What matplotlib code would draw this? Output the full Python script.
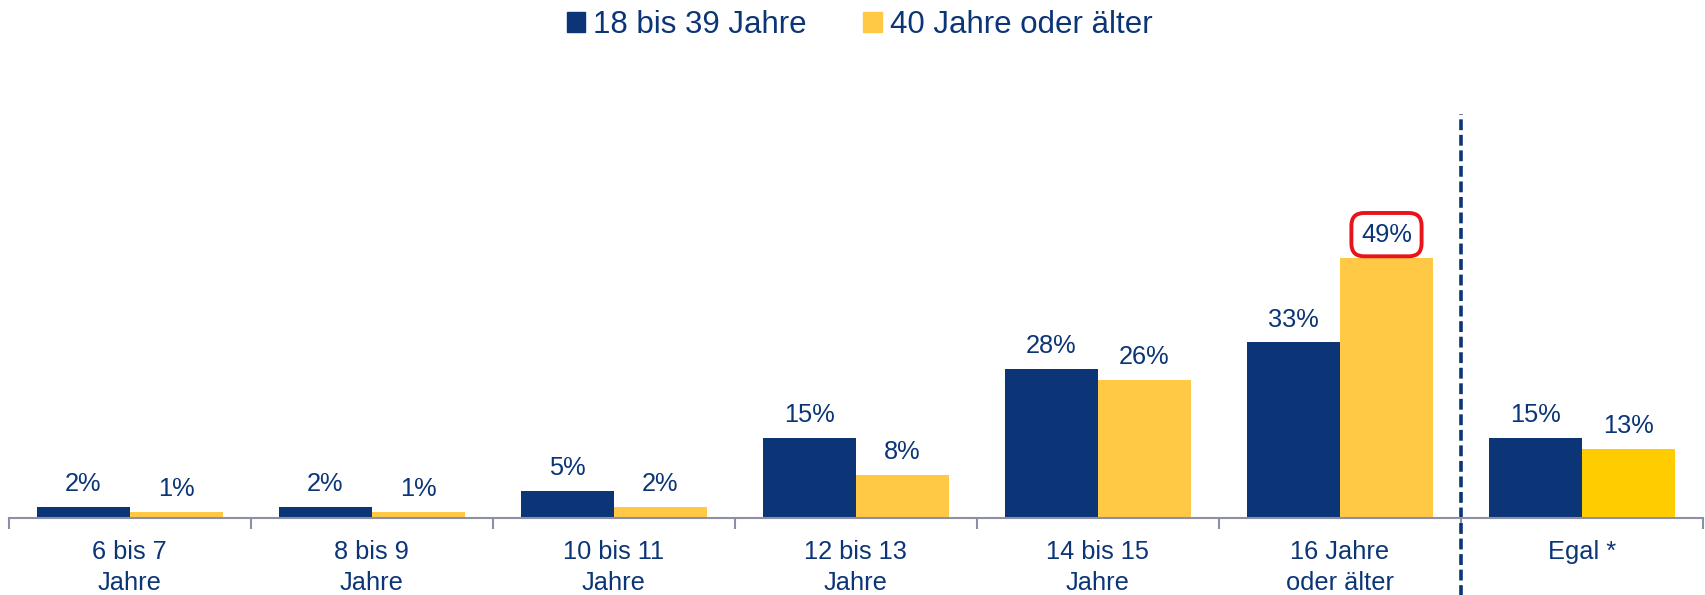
import numpy as np
import matplotlib
matplotlib.use("Agg")
import matplotlib.pyplot as plt
from matplotlib.patches import Patch

plt.rcParams["font.family"] = ["Liberation Sans", "DejaVu Sans"]

# Data
categories = ["6 bis 7\nJahre", "8 bis 9\nJahre", "10 bis 11\nJahre", "12 bis 13\nJahre",
              "14 bis 15\nJahre", "16 Jahre\noder älter", "Egal *"]
series_names = ["18 bis 39 Jahre", "40 Jahre oder älter"]
young = [2, 2, 5, 15, 28, 33, 15]
old = [1, 1, 2, 8, 26, 49, 13]

navy = "#0b3577"
yellow = "#ffc845"
yellow_egal = "#ffcc00"
text_col = "#0b3577"

fig = plt.figure(figsize=(17.05, 5.95), dpi=100)
ax = fig.add_axes([0.0051, 0.130, 0.9937, 0.678])

x = np.arange(len(categories))
w = 0.385
old_colors = [yellow] * (len(categories) - 1) + [yellow_egal]
b1 = ax.bar(x - w / 2, young, width=w, color=navy)
b2 = ax.bar(x + w / 2, old, width=w, color=old_colors)

# value labels
for bars, vals in ((b1, young), (b2, old)):
	for rect, v in zip(bars, vals):
		kw = {}
		if vals is old and v == max(old):
			kw["bbox"] = dict(boxstyle="round,pad=0.38,rounding_size=0.5", fc="white", ec="#e8141b", lw=2.8)
		ax.annotate(f"{v}%", (rect.get_x() + rect.get_width() / 2, rect.get_height()),
			xytext=(0, 16.5), textcoords="offset points", ha="center", va="center",
			fontsize=18.3, color=text_col, **kw)

ax.set_xlim(-0.5, len(categories) - 0.5)
ax.set_ylim(0, 76)
for s in ("top", "right", "left"):
	ax.spines[s].set_visible(False)
ax.spines["bottom"].set_color("#8c8fa6")
ax.spines["bottom"].set_linewidth(1.5)
ax.set_yticks([])

# ticks at category boundaries, labels centered
ax.set_xticks(np.arange(-0.5, len(categories)), minor=False)
ax.set_xticklabels([])
ax.tick_params(axis="x", which="major", length=8, width=1.5, color="#8c8fa6", direction="out")
ax.set_xticks(x, minor=True)
ax.set_xticklabels(categories, minor=True, fontsize=18.3, color=text_col, linespacing=1.38)
ax.tick_params(axis="x", which="minor", length=0, pad=16)

# dashed separator before "Egal"
ax.axvline(len(categories) - 1.5, ymin=-0.2, ymax=1.0, clip_on=False, color=navy,
	lw=2.6, dashes=(3.0, 1.3))

handles = [Patch(color=navy), Patch(color=yellow)]
leg = fig.legend(handles, series_names, loc="center", bbox_to_anchor=(0.504, 0.958), ncol=2,
	frameon=False, fontsize=22.5, handlelength=0.6, handleheight=0.6, handletextpad=0.25,
	columnspacing=1.8)
for t in leg.get_texts():
	t.set_color(text_col)

fig.savefig("out.png", dpi=100)
